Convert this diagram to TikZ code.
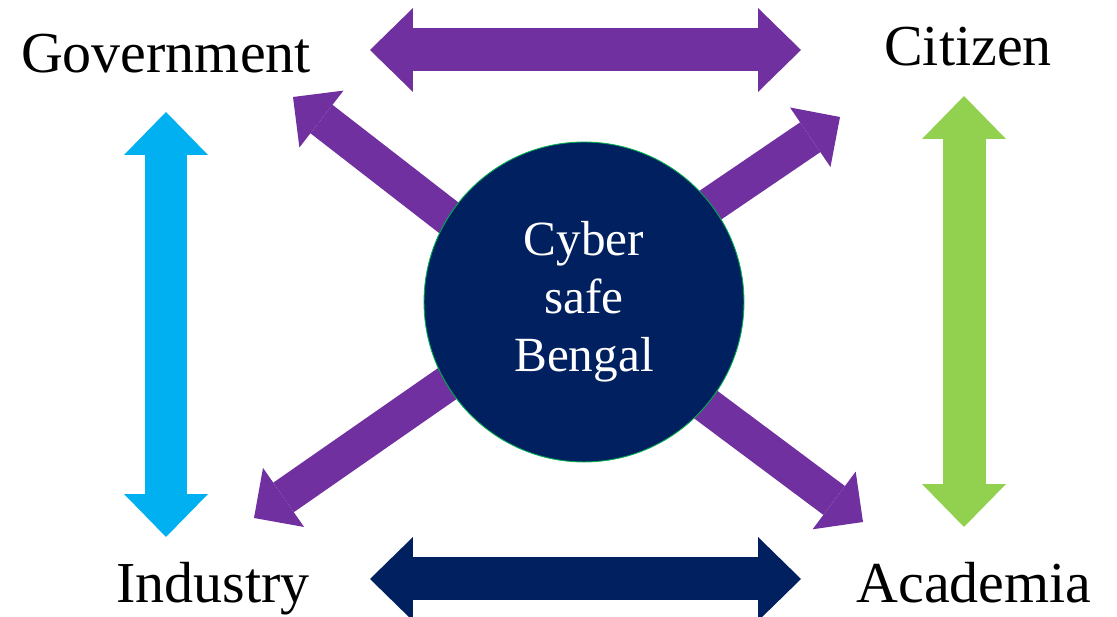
\documentclass[tikz,border=0pt]{standalone}
\usepackage{fontspec}
\setmainfont{Liberation Serif}
\usetikzlibrary{arrows.meta, backgrounds}
\definecolor{cspurple}{HTML}{7030A0}
\definecolor{csnavy}{HTML}{002060}
\definecolor{cscyan}{HTML}{00B0F0}
\definecolor{csgreen}{HTML}{92D050}
\definecolor{csrim}{HTML}{00B050}
\tikzset{<->/.style={line width=0.86cm,
    {Triangle[length=0.86cm, width=1.68cm, line width=0pt]}-{Triangle[length=0.86cm, width=1.68cm, line width=0pt]}}
}
\tikzset{-->/.style={line width=0.72cm, cspurple,
    -{Triangle[length=0.72cm, width=1.44cm, line width=0pt]}}
}
\tikzset{label text/.style={anchor=base, font=\fontsize{33}{40}\selectfont}}
\begin{document}
\begin{tikzpicture}[x=0.02cm, y=-0.02cm]
\useasboundingbox (0,0) rectangle (1117,617);

\node[circle, fill=csnavy, draw=csrim, line width=0.5pt, minimum size=6.4cm, inner sep=0pt,
      text=white, align=center, font=\fontsize{28}{33}\selectfont] (cyber) at (584,302)
      {Cyber\\ safe\\ Bengal};

\node[label text] (gov) at (166,73) {Government};
\node[label text] (cit) at (968,66) {Citizen};
\node[label text] (ind) at (213,603) {Industry};
\node[label text] (aca) at (974,603) {Academia};

% ends of the block arrows
\coordinate (top l) at (370,50);  \coordinate (top r) at (801,50);
\coordinate (bot l) at (370,579); \coordinate (bot r) at (801,579);
\coordinate (lft t) at (166,112); \coordinate (lft b) at (166,537);
\coordinate (rgt t) at (964,96);  \coordinate (rgt b) at (964,527);

\draw[<->, cspurple] (top l) -- (top r);
\draw[<->, csnavy] (bot l) -- (bot r);
\draw[<->, cscyan] (lft t) -- (lft b);
\draw[<->, csgreen] (rgt t) -- (rgt b);

\begin{scope}[on background layer]
    \coordinate (ul s) at (520,273); \coordinate (ul e) at (293,97);
    \coordinate (ur s) at (640,253); \coordinate (ur e) at (840,117);
    \coordinate (ll s) at (520,333); \coordinate (ll e) at (254,518);
    \coordinate (lr s) at (650,363); \coordinate (lr e) at (863,522);
    \draw[-->] (ul s) -- (ul e);
    \draw[-->] (ur s) -- (ur e);
    \draw[-->] (ll s) -- (ll e);
    \draw[-->] (lr s) -- (lr e);
\end{scope}

\end{tikzpicture}
\end{document}
